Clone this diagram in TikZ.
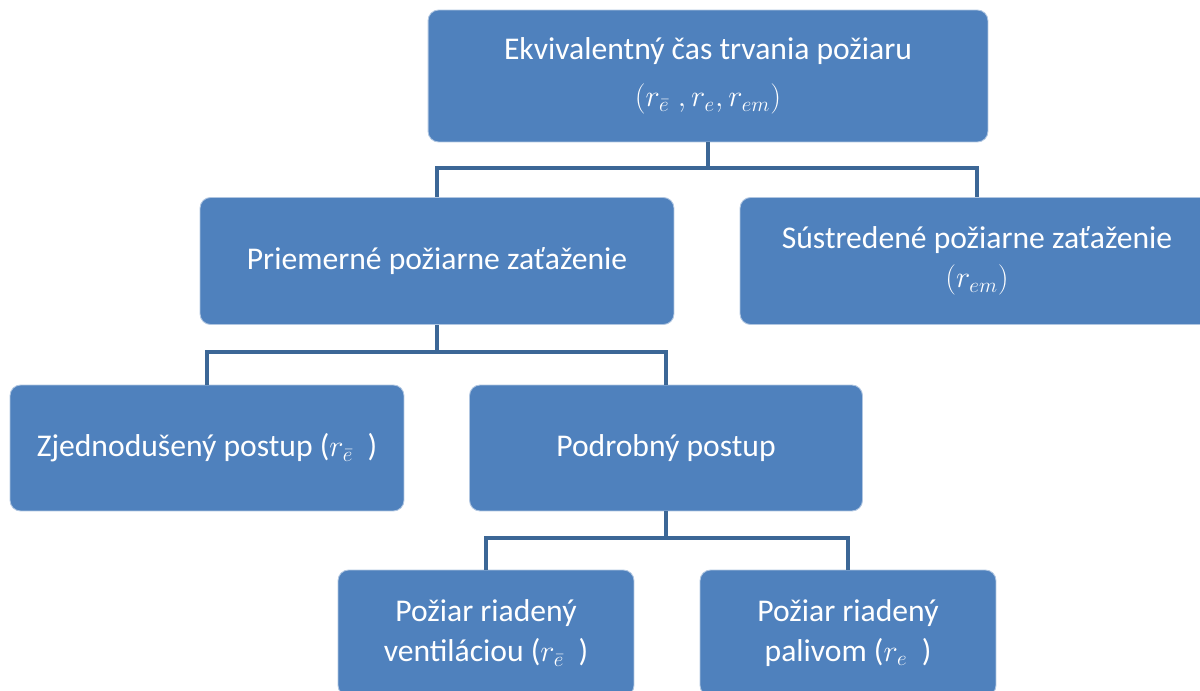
\documentclass[tikz,border=0pt]{standalone}
\usepackage{fontspec}
\setmainfont{Carlito}
\usetikzlibrary{positioning}
\definecolor{boxblue}{HTML}{4F81BD}
\definecolor{linkblue}{HTML}{3C6796}

\begin{document}
\begin{tikzpicture}[x=0.02cm,y=-0.02cm,
  box/.style={draw=white!55!boxblue,line width=0.5pt,fill=boxblue,rounded corners=6pt,
    text=white,align=center,font=\fontsize{18}{22.5}\selectfont,inner sep=2pt},
  link/.style={draw=linkblue,line width=2.3pt}
]
\useasboundingbox (0,0) rectangle (1200,690);
\clip (0,0) rectangle (1200,690);

\node[box,minimum width=11.2cm,minimum height=2.64cm,font=\fontsize{18}{27}\selectfont] (top) at (708,76)
  {Ekvivalentný čas trvania požiaru\\$(r_{\bar{e}}\;, r_e, r_{em})$};
\node[box,minimum width=9.48cm,minimum height=2.54cm] (prem) at (437,261) {Priemerné požiarne zaťaženie};
\node[box,minimum width=9.48cm,minimum height=2.54cm] (sust) at (977,261) {Sústredené požiarne zaťaženie\\$(r_{em})$};
\node[box,minimum width=7.88cm,minimum height=2.52cm] (zjed) at (207,448) {Zjednodušený postup ($r_{\bar{e}}$\ \ )};
\node[box,minimum width=7.86cm,minimum height=2.52cm] (podr) at (666,448) {Podrobný postup};
\node[box,minimum width=5.92cm,minimum height=2.52cm] (vent) at (486,633) {Požiar riadený\\ventiláciou ($r_{\bar{e}}$\ \ )};
\node[box,minimum width=5.92cm,minimum height=2.52cm] (pali) at (848,633) {Požiar riadený\\palivom ($r_e$\ \ )};

% branch points below each parent
\coordinate (fork1) at ([yshift=-0.52cm]top.south);
\coordinate (fork2) at ([yshift=-0.54cm]prem.south);
\coordinate (fork3) at ([yshift=-0.54cm]podr.south);

\draw[link] (top.south) -- (fork1) -| (prem.north);
\draw[link] (fork1) -| (sust.north);
\draw[link] (prem.south) -- (fork2) -| (zjed.north);
\draw[link] (fork2) -| (podr.north);
\draw[link] (podr.south) -- (fork3) -| (vent.north);
\draw[link] (fork3) -| (pali.north);

\end{tikzpicture}
\end{document}
